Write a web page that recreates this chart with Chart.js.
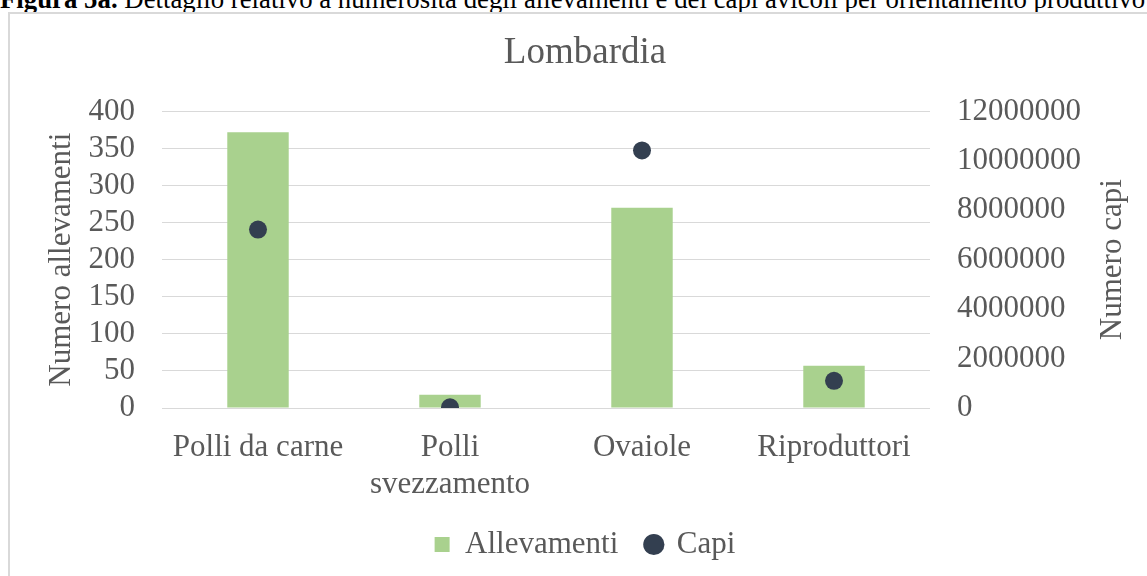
<!DOCTYPE html>
<html>
<head>
<meta charset="utf-8">
<script src="https://cdn.jsdelivr.net/npm/chart.js@4.4.1/dist/chart.umd.min.js"></script>
<style>
  html, body { margin: 0; padding: 0; background: #fff; overflow: hidden; }
  .caption {
    position: absolute; left: 0px; top: -14px;
    font: 26.8px/26.8px "Liberation Serif", "Times New Roman", serif;
    color: #000; white-space: nowrap;
  }
  .box {
    position: absolute; left: 8px; top: 12px;
    width: 1150px; height: 580px;
    border: 2px solid #d9d9d9;
  }
</style>
</head>
<body>
<div class="caption"><b>Figura 5a.</b> Dettaglio relativo a numerosità degli allevamenti e dei capi avicoli per orientamento produttivo</div>
<div class="box"><canvas id="chart"></canvas></div>
<script>
// categories and values
const categories = ["Polli da carne", ["Polli", "svezzamento"], "Ovaiole", "Riproduttori"];
const allevamenti = [372, 18, 270, 57];
const capi = [7220000, 30000, 10420000, 1100000];

const leftTicks = { min: 0, max: 400, step: 50 };
const rightTicks = { min: 0, max: 12000000, step: 2000000 };

const FONT = "'Liberation Serif', 'Times New Roman', serif";
const TEXT = "#595959";
const GRID = "#d9d9d9";

// right title reads bottom-to-top like the left one, so draw it here
const rightTitle = {
  id: "rightTitle",
  afterDraw(chart) {
    const { ctx, chartArea } = chart;
    const scale = chart.scales.y1;
    ctx.save();
    ctx.font = `31px ${FONT}`;
    ctx.fillStyle = TEXT;
    ctx.textAlign = "center";
    ctx.textBaseline = "middle";
    ctx.translate(scale.right - 47, (chartArea.top + chartArea.bottom) / 2);
    ctx.rotate(-Math.PI / 2);
    ctx.fillText("Numero capi", 0, 0);
    ctx.restore();
  },
};

const canvas = document.getElementById("chart");

const chartConfig = {
  type: "bar",
  data: {
    labels: categories,
    datasets: [
      {
        label: "Allevamenti",
        data: allevamenti,
        backgroundColor: "#a9d18e",
        borderWidth: 0,
        pointStyle: "rect",
        yAxisID: "y",
        order: 1,
        barPercentage: 0.32,
        categoryPercentage: 1,
      },
      {
        type: "line",
        label: "Capi",
        data: capi,
        showLine: false,
        pointRadius: 9,
        pointHoverRadius: 9,
        pointBorderWidth: 0,
        pointStyle: "circle",
        backgroundColor: "#333f50",
        borderColor: "#333f50",
        pointBackgroundColor: "#333f50",
        yAxisID: "y1",
        order: 0,
      },
    ],
  },
  options: {
    responsive: true,
    maintainAspectRatio: false,
    animation: false,
    layout: { padding: { top: 0, bottom: 24, left: 0, right: 0 } },
    plugins: {
      title: {
        display: true,
        text: "Lombardia",
        color: TEXT,
        font: { family: FONT, size: 37, weight: "normal" },
        padding: { top: 17, bottom: 36 },
      },
      legend: {
        position: "bottom",
        labels: {
          usePointStyle: true,
          boxWidth: 15,
          boxHeight: 15,
          padding: 28,
          color: TEXT,
          font: { family: FONT, size: 31 },
          sort: (a, b) => a.datasetIndex - b.datasetIndex,
        },
      },
      tooltip: { enabled: false },
    },
    scales: {
      x: {
        offset: true,
        grid: { display: false },
        border: { display: false },
        ticks: {
          color: TEXT,
          padding: 13,
          maxRotation: 0,
          autoSkip: false,
          font: { family: FONT, size: 31 },
        },
        afterFit: (scale) => { scale.height = 93; },
      },
      y: {
        position: "left",
        min: leftTicks.min,
        max: leftTicks.max,
        grid: { color: GRID, lineWidth: 1, drawTicks: false },
        border: { display: false },
        ticks: {
          stepSize: leftTicks.step,
          autoSkip: false,
          padding: 27,
          color: TEXT,
          font: { family: FONT, size: 31 },
          callback: (v) => String(v),
        },
        title: {
          display: true,
          text: "Numero allevamenti",
          color: TEXT,
          font: { family: FONT, size: 31 },
          padding: { top: 33, bottom: 0 },
        },
        afterFit: (scale) => { scale.width = 152; },
      },
      y1: {
        position: "right",
        min: rightTicks.min,
        max: rightTicks.max,
        grid: { display: false, drawTicks: false },
        border: { display: false },
        ticks: {
          stepSize: rightTicks.step,
          autoSkip: false,
          padding: 27,
          color: TEXT,
          font: { family: FONT, size: 31 },
          callback: (v) => String(v),
        },
        afterFit: (scale) => { scale.width = 230; },
      },
    },
  },
  plugins: [rightTitle],
};

const myChart = new Chart(canvas, chartConfig);
</script>
</body>
</html>
